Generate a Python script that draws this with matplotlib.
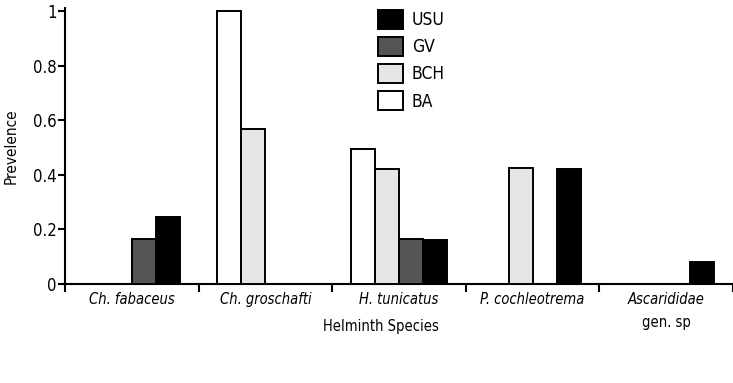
import numpy as np
import matplotlib
matplotlib.use("Agg")
import matplotlib.pyplot as plt
from matplotlib.patches import Patch

# condensed sans to mimic the narrow Helvetica of the original
plt.rcParams['font.family'] = ['Liberation Sans Narrow', 'DejaVu Sans']
plt.rcParams['font.stretch'] = 'condensed'

# ── Data ──────────────────────────────────────────────────────────────────────
species = ["Ch. fabaceus", "Ch. groschafti", "H. tunicatus", "P. cochleotrema", "Ascarididae"]
ba  = [0.0,   1.0,   0.493, 0.0,   0.0]
bch = [0.0,   0.569, 0.422, 0.424, 0.0]
gv  = [0.166, 0.0,   0.165, 0.0,   0.0]
usu = [0.247, 0.0,   0.162, 0.421, 0.079]

series = [("BA", ba, "white"), ("BCH", bch, "#e6e6e6"),
          ("GV", gv, "#555555"), ("USU", usu, "black")]

# ── Plot ──────────────────────────────────────────────────────────────────────
fig = plt.figure(figsize=(7.33, 3.83), dpi=100)
ax = fig.add_axes([65 / 733, 1 - 284 / 383, 668 / 733, 276 / 383])

x = np.arange(len(species)) + 0.5
w = 0.18
for j, (name, vals, col) in enumerate(series):
    bars = ax.bar(x + (j - 1.5) * w, vals, w, color=col, edgecolor="black",
                  linewidth=1.4, zorder=3)
    for b, v in zip(bars, vals):
        if v == 0:
            b.set_visible(False)

ax.set_xlim(0, len(species))
ax.set_ylim(0, 1.011)

for s in ["top", "right"]:
    ax.spines[s].set_visible(False)
for s in ["left", "bottom"]:
    ax.spines[s].set_linewidth(1.5)

yt = [0, 0.2, 0.4, 0.6, 0.8, 1.0]
ax.set_yticks(yt)
ax.set_yticklabels([f"{v:g}" for v in yt], fontsize=12)
ax.tick_params(axis="y", direction="out", length=5, width=1.5, pad=1)

ax.set_xticks(np.arange(len(species) + 1))
ax.set_xticklabels([])
ax.tick_params(axis="x", which="major", direction="out", length=6, width=1.5)
ax.set_xticks(x, minor=True)
ax.set_xticklabels(species, minor=True, fontsize=10.5, style="italic")
ax.tick_params(axis="x", which="minor", length=0, pad=6)

ax.text(x[-1], -0.14, "gen. sp", ha="center", va="center", fontsize=10.5,
        transform=ax.get_xaxis_transform())
fig.text(381 / 733, 1 - 326 / 383, "Helminth Species", ha="center", va="center", fontsize=10.5)
ax.set_ylabel("Prevelence", fontsize=11, labelpad=10)

handles = [Patch(facecolor=c, edgecolor="black", linewidth=1.4, label=n)
           for n, _, c in series[::-1]]
fig.legend(handles=handles, loc="upper left", bbox_to_anchor=(378 / 733, 1 - 10 / 383),
           frameon=False, fontsize=12.5, borderpad=0, borderaxespad=0, handlelength=1.45,
           handleheight=1.3, labelspacing=0.45, handletextpad=0.5)

plt.savefig("out.png", dpi=100)
